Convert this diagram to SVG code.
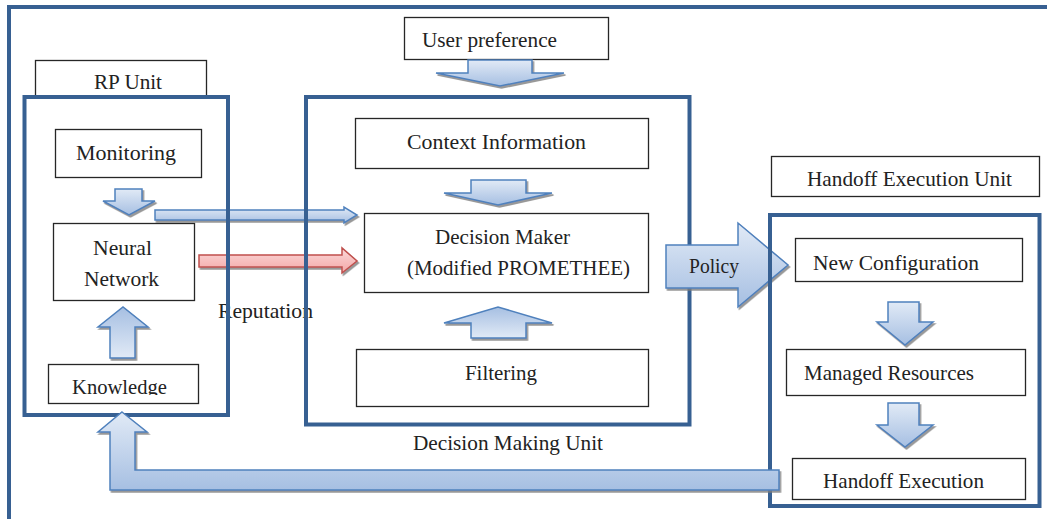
<svg xmlns="http://www.w3.org/2000/svg" width="1047" height="519" viewBox="0 0 1047 519">
<style>
.frame{fill:none;stroke:#376092;stroke-width:4}
.box{fill:#fff;stroke:#262626;stroke-width:1.3}
.blue{stroke:#4f81bd;stroke-width:1.5;stroke-linejoin:miter;filter:url(#sh)}
.red{fill:url(#gRed);stroke:#c0504d;stroke-width:1.5;filter:url(#sh)}
.t{font-family:"Liberation Serif","Times New Roman",serif;font-size:21px;fill:#222;text-anchor:middle}
</style>
<defs>
<linearGradient id="gDown" x1="0" y1="0" x2="0" y2="1"><stop offset="0" stop-color="#e1eaf6"/><stop offset="1" stop-color="#a6bfe2"/></linearGradient>
<linearGradient id="gUp" x1="0" y1="1" x2="0" y2="0"><stop offset="0" stop-color="#e1eaf6"/><stop offset="1" stop-color="#a6bfe2"/></linearGradient>
<linearGradient id="gRed" x1="0" y1="0" x2="0" y2="1"><stop offset="0" stop-color="#fbd9d9"/><stop offset="1" stop-color="#f3a7a7"/></linearGradient>
<filter id="sh" x="-10%" y="-10%" width="130%" height="140%"><feDropShadow dx="1.5" dy="2" stdDeviation="0.6" flood-color="#7f7f7f" flood-opacity="0.8"/></filter>
<clipPath id="kclip"><rect x="48" y="364" width="151" height="31"/></clipPath>
</defs>

<g id="outer-frame"><path class="frame" d="M9,519 V7 H1047"/></g>

<g id="label-rp-unit"><rect class="box" x="35.5" y="60.5" width="171" height="37"/><text class="t" x="128" y="89" textLength="68" lengthAdjust="spacingAndGlyphs">RP Unit</text></g>
<g id="user-preference"><rect class="box" x="404.5" y="17.5" width="204" height="42"/><text class="t" x="489.5" y="47" textLength="135" lengthAdjust="spacingAndGlyphs">User preference</text></g>
<g id="label-handoff-unit"><rect class="box" x="771.5" y="156.5" width="268" height="40"/><text class="t" x="909.5" y="186" textLength="205" lengthAdjust="spacingAndGlyphs">Handoff Execution Unit</text></g>

<g id="connectors">
<path class="blue" fill="url(#gDown)" d="M155,210 H344 V207 L357,215 L344,223 V220 H155 Z"/>
<path class="red" d="M199,255 H342 V248 L357,261 L342,273 V267 H199 Z"/>
</g>

<text id="reputation" class="t" x="265.5" y="318" textLength="95" lengthAdjust="spacingAndGlyphs">Reputation</text>

<g id="rp-unit"><rect class="frame" x="24.5" y="97" width="203.5" height="318"/></g>
<g id="decision-making-unit"><rect class="frame" x="306" y="97" width="383.5" height="327.5"/><text class="t" x="508" y="450" textLength="190" lengthAdjust="spacingAndGlyphs">Decision Making Unit</text></g>

<g id="connectors-2">
<path class="blue" fill="url(#gDown)" d="M115,189 H142 V201 H155 L129,215 L103,201 H115 Z"/>
<path class="blue" fill="url(#gUp)" d="M110,358 V327 H98 L123,307 L148,327 H135 V358 Z"/>
<path class="blue" fill="url(#gDown)" d="M468,60 H532 V73 H564 L500,86 L436,73 H468 Z"/>
<path class="blue" fill="url(#gDown)" d="M471,180 H526 V193 H552 L498,205 L444,193 H471 Z"/>
<path class="blue" fill="url(#gUp)" d="M471,338 V323 H444 L498,307 L552,323 H526 V338 Z"/>
<path class="blue" fill="url(#gDown)" d="M666,245 H738 V223 L788,265 L738,307 V288 H666 Z"/>
</g>
<text id="policy" class="t" x="714" y="273" textLength="50" lengthAdjust="spacingAndGlyphs">Policy</text>

<g id="handoff-execution-unit"><rect class="frame" x="770" y="215" width="269.5" height="291"/></g>

<g id="connectors-3">
<path class="blue" fill="url(#gDown)" d="M888,302 H919 V322 H933 L905,345 L877,322 H888 Z"/>
<path class="blue" fill="url(#gDown)" d="M888,403 H919 V425 H933 L905,447 L877,425 H888 Z"/>
<path class="blue" fill="url(#gDown)" d="M122,412 L147,432 H135 V470 H779 V490 H110 V432 H98 Z"/>
</g>

<g id="monitoring"><rect class="box" x="55.5" y="129.5" width="146" height="48"/><text class="t" x="126" y="160" textLength="100" lengthAdjust="spacingAndGlyphs">Monitoring</text></g>
<g id="neural-network"><rect class="box" x="53.5" y="223.5" width="141" height="77"/><text class="t" x="122.5" y="255" textLength="59" lengthAdjust="spacingAndGlyphs">Neural</text><text class="t" x="121.5" y="286" textLength="75" lengthAdjust="spacingAndGlyphs">Network</text></g>
<g id="knowledge"><rect class="box" x="48.5" y="364.5" width="150" height="39"/><text class="t" x="119.5" y="394" textLength="95" lengthAdjust="spacingAndGlyphs" clip-path="url(#kclip)">Knowledge</text></g>

<g id="context-information"><rect class="box" x="355.5" y="118.5" width="293" height="50"/><text class="t" x="496.5" y="149" textLength="179" lengthAdjust="spacingAndGlyphs">Context Information</text></g>
<g id="decision-maker"><rect class="box" x="364.5" y="213.5" width="284" height="79"/><text class="t" x="502.5" y="244" textLength="135" lengthAdjust="spacingAndGlyphs">Decision Maker</text><text class="t" x="518.5" y="275" textLength="223" lengthAdjust="spacingAndGlyphs">(Modified PROMETHEE)</text></g>
<g id="filtering"><rect class="box" x="356.5" y="349.5" width="292" height="57"/><text class="t" x="501" y="380" textLength="72" lengthAdjust="spacingAndGlyphs">Filtering</text></g>

<g id="new-configuration"><rect class="box" x="795.5" y="238.5" width="227" height="43"/><text class="t" x="896" y="270" textLength="166" lengthAdjust="spacingAndGlyphs">New Configuration</text></g>
<g id="managed-resources"><rect class="box" x="786.5" y="349.5" width="239" height="46"/><text class="t" x="889" y="380" textLength="170" lengthAdjust="spacingAndGlyphs">Managed Resources</text></g>
<g id="handoff-execution"><rect class="box" x="792.5" y="458.5" width="233" height="41"/><text class="t" x="903.5" y="488" textLength="161" lengthAdjust="spacingAndGlyphs">Handoff Execution</text></g>
</svg>
